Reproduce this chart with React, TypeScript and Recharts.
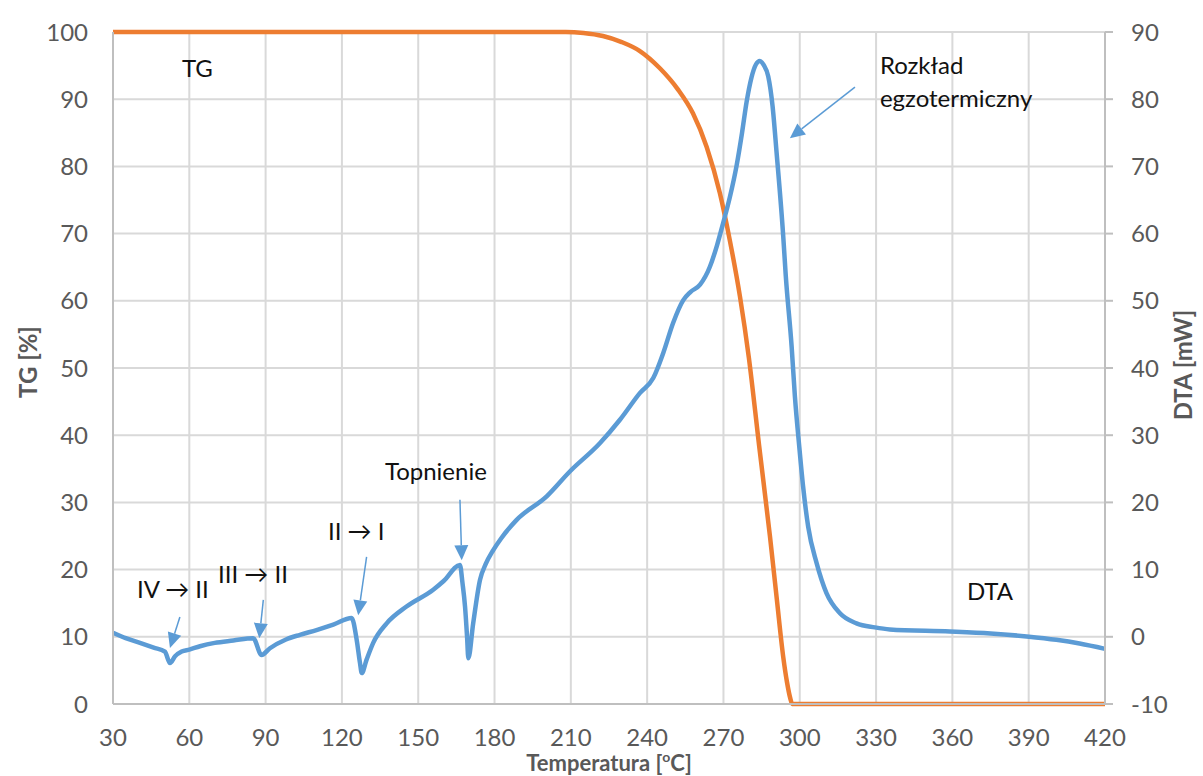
import { CartesianGrid, Line, LineChart, ReferenceDot, ReferenceLine, XAxis, YAxis } from "recharts";

const BLUE = "#5B9BD5";
const ORANGE = "#ED7D31";
const GRID = "#d9d9d9";
const AXIS = "#bfbfbf";
const LABEL = "#595959";
const FONT = "Lato, 'Open Sans', sans-serif";

const tempTicks = [30, 60, 90, 120, 150, 180, 210, 240, 270, 300, 330, 360, 390, 420];
const tgTicks = [0, 10, 20, 30, 40, 50, 60, 70, 80, 90, 100];
const dtaTicks = [-10, 0, 10, 20, 30, 40, 50, 60, 70, 80, 90];

// TG [%] vs temperature
const tgTemp = [30, 100, 200, 208, 215, 222.6, 230, 237, 245, 252, 258, 263.4, 268.6, 272.5, 276.5, 280, 284, 288.3, 291, 293.5, 295, 296.3, 297, 300, 360, 420];
const tgValue = [100, 100, 100, 100, 99.85, 99.4, 98.5, 97.2, 94.6, 91.5, 87.9, 82.9, 76, 69, 60.6, 51.5, 38.5, 24.9, 15.5, 7, 3.2, 0.8, 0, 0, 0, 0];

// DTA [mW] vs temperature
const dtaTemp = [
  30, 35, 40.6, 46, 50.4, 52.4, 54.4, 57, 60, 64.2, 70, 77.3, 85.1, 88.4, 91.7, 98, 103.5, 110,
  116.6, 123.8, 125.8, 127.1, 127.8, 129.7, 132.3, 137.6, 145.4, 155.9, 160, 166.4, 167.4, 168.4,
  169.2, 169.7, 171.6, 174.3, 176.5, 179.5, 182.5, 188.7, 200.5, 209.6, 221.4, 229.3, 237.2, 242.4,
  246.3, 250.2, 254.2, 257, 260.8, 264.7, 267.5, 269.9, 272.5, 275.2, 277.3, 279.1, 281, 282.8,
  284.3, 285.8, 287.6, 289.3, 290.9, 293.5, 294.5, 296.8, 298.1, 299.8, 301.3, 303.3, 306.6, 310.5,
  315.8, 322.3, 329.5, 335.4, 359, 375, 389.2, 400.9, 410, 420,
];
const dtaValue = [
  0.6, -0.2, -0.9, -1.6, -2.2, -3.9, -2.9, -2.2, -1.9, -1.4, -0.9, -0.55, -0.2, -2.7, -1.7, -0.4, 0.3, 1.0,
  1.8, 2.8, -0.45, -3.9, -5.4, -3.4, -0.9, 2.0, 4.5, 7.0, 8.3, 10.7, 8.0, 4.5,
  0.0, -3.2, 2.0, 8.5, 10.8, 12.9, 14.6, 17.4, 20.9, 24.6, 28.8, 32.3, 36.3, 38.5,
  42.2, 46.7, 50.1, 51.3, 52.4, 55.1, 58.3, 61.6, 65.4, 70.2, 75, 79.6, 83.2, 85.2,
  85.7, 85.1, 83.4, 79, 72, 59.6, 53.7, 43.2, 35.7, 28.3, 22.4, 16.4, 11, 6.5,
  3.5, 2.0, 1.4, 1.1, 0.8, 0.5, 0.05, -0.45, -1.0, -1.8,
];

// annotations (left axis units)
const noteText = ["TG", "IV → II", "III → II", "II → I", "Topnienie", "Rozkład", "egzotermiczny", "DTA"];
const noteTemp = [57.1, 39.4, 71.3, 114.5, 136.9, 331.5, 331.5, 365.7];
const noteLevel = [93.3, 15.8, 18.0, 24.4, 33.3, 93.75, 88.8, 15.5];

const arrowFromTemp = [56.3, 89.1, 129.7, 166.4, 321.7];
const arrowFromLevel = [12.95, 15.5, 21.9, 30.4, 91.8];
const arrowToTemp = [52.4, 87.5, 126.4, 167.1, 296.1];
const arrowToLevel = [8.33, 9.78, 13.2, 21.4, 84.2];

const tgData = tgTemp.map((t, i) => ({ t, v: tgValue[i] }));
const dtaData = dtaTemp.map((t, i) => ({ t, v: dtaValue[i] }));

function arrowShape(p: any) {
  const { x1, y1, x2, y2 } = p;
  const dx = x2 - x1;
  const dy = y2 - y1;
  const len = Math.hypot(dx, dy) || 1;
  const ux = dx / len;
  const uy = dy / len;
  const L = 15;
  const W = 7;
  const bx = x2 - ux * L;
  const by = y2 - uy * L;
  const pts = `${x2},${y2} ${bx - uy * W},${by + ux * W} ${bx + uy * W},${by - ux * W}`;
  return (
    <g>
      <line x1={x1} y1={y1} x2={bx} y2={by} stroke={BLUE} strokeWidth={1.5} />
      <polygon points={pts} fill={BLUE} />
    </g>
  );
}

export default function App() {
  return (
    <div style={{ position: "absolute", left: 0, top: 0, background: "#fff" }}>
      <LineChart width={1203} height={776} margin={{ top: 32, right: 0, bottom: 0, left: 0 }}>
        <CartesianGrid yAxisId="left" stroke={GRID} strokeWidth={2} vertical horizontal />
        <XAxis
          type="number"
          dataKey="t"
          domain={[30, 420]}
          ticks={tempTicks}
          height={72}
          stroke={AXIS}
          strokeWidth={2}
          tickLine={false}
          tickSize={6}
          tickMargin={19}
          tick={{ fill: LABEL, fontSize: 24, fontFamily: FONT }}
          label={{
            content: (lp: any) => {
              const vb = lp.viewBox;
              return (
                <text
                  x={vb.x + vb.width / 2}
                  y={vb.y + 67}
                  textAnchor="middle"
                  fill={LABEL}
                  fontSize={22}
                  fontWeight="bold"
                  fontFamily={FONT}
                >
                  Temperatura [<tspan dy={-9} fontSize={14}>o</tspan>
                  <tspan dy={9}>C]</tspan>
                </text>
              );
            },
          }}
        />
        <YAxis
          yAxisId="left"
          type="number"
          domain={[0, 100]}
          ticks={tgTicks}
          width={113}
          stroke={AXIS}
          strokeWidth={2}
          tickLine={false}
          tickSize={6}
          tickMargin={19}
          tick={{ fill: LABEL, fontSize: 24, fontFamily: FONT }}
          label={{
            content: (lp: any) => {
              const vb = lp.viewBox;
              const cy = vb.y + vb.height / 2 - 6;
              return (
                <text
                  x={37}
                  y={cy}
                  transform={`rotate(-90, 37, ${cy})`}
                  textAnchor="middle"
                  fill={LABEL}
                  fontSize={24}
                  fontWeight="bold"
                  fontFamily={FONT}
                >
                  TG [%]
                </text>
              );
            },
          }}
        />
        <YAxis
          yAxisId="right"
          orientation="right"
          type="number"
          domain={[-10, 90]}
          ticks={dtaTicks}
          width={98}
          stroke={AXIS}
          strokeWidth={2}
          tickSize={8}
          tickMargin={18}
          tick={{ fill: LABEL, fontSize: 24, fontFamily: FONT }}
          label={{
            content: (lp: any) => {
              const vb = lp.viewBox;
              const cy = vb.y + vb.height / 2 - 3;
              const x = vb.x + 87;
              return (
                <text
                  x={x}
                  y={cy}
                  transform={`rotate(-90, ${x}, ${cy})`}
                  textAnchor="middle"
                  fill={LABEL}
                  fontSize={24}
                  fontWeight="bold"
                  fontFamily={FONT}
                >
                  DTA [mW]
                </text>
              );
            },
          }}
        />
        <Line
          yAxisId="left"
          data={tgData}
          dataKey="v"
          type="monotone"
          stroke={ORANGE}
          strokeWidth={4.5}
          dot={false}
          isAnimationActive={false}
        />
        <Line
          yAxisId="right"
          data={dtaData}
          dataKey="v"
          type="monotone"
          stroke={BLUE}
          strokeWidth={4.5}
          dot={false}
          isAnimationActive={false}
        />
        {arrowFromTemp.map((t, i) => (
          <ReferenceLine
            key={"arrow" + i}
            yAxisId="left"
            segment={[
              { x: t, y: arrowFromLevel[i] },
              { x: arrowToTemp[i], y: arrowToLevel[i] },
            ]}
            shape={arrowShape}
          />
        ))}
        {noteText.map((txt, i) => (
          <ReferenceDot
            key={"note" + i}
            yAxisId="left"
            x={noteTemp[i]}
            y={noteLevel[i]}
            r={0}
            shape={(p: any) => (
              <text x={p.cx} y={p.cy} fill="#111" fontSize={24} fontFamily={FONT}>
                {txt}
              </text>
            )}
          />
        ))}
      </LineChart>
    </div>
  );
}
